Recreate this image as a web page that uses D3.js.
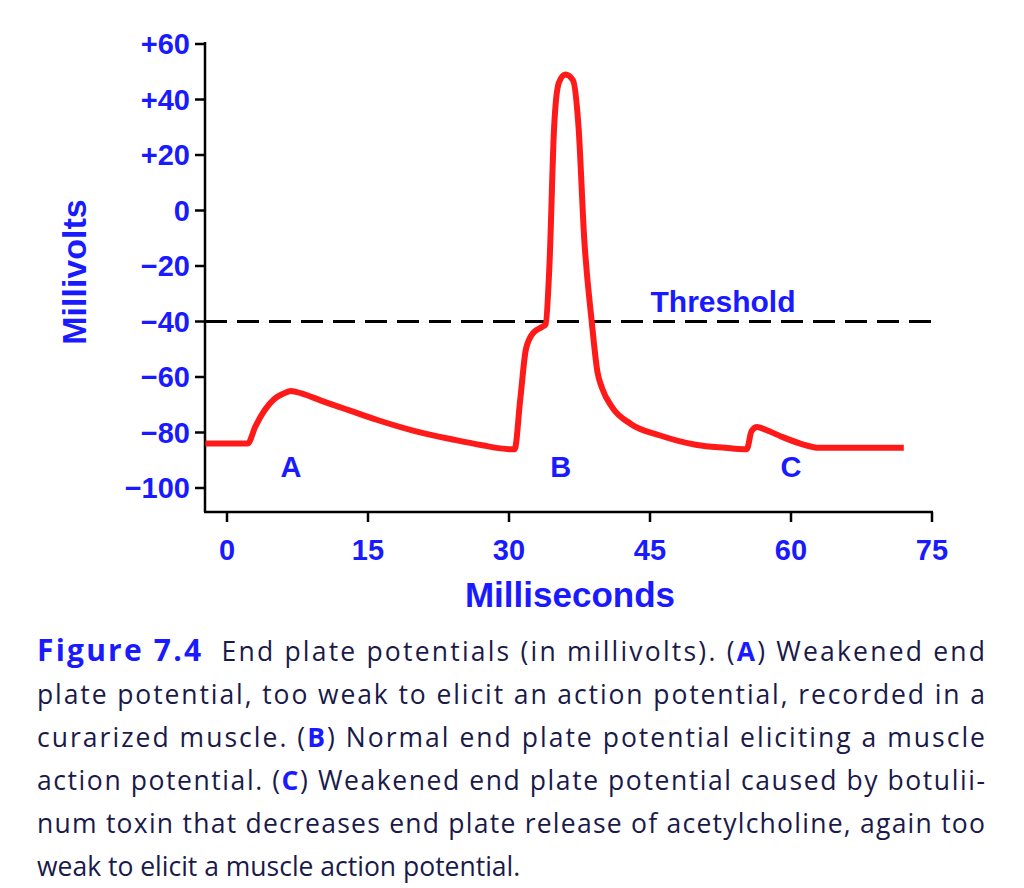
<!DOCTYPE html><html><head><meta charset="utf-8">
<script src="https://cdn.jsdelivr.net/npm/d3@7"></script>
<style>body{margin:0;background:#fff}</style></head><body>
<svg id="c" width="1024" height="888"></svg>
<script>
const times=[-2.3,2.2,3,4,5,6,6.8,8,10,13,16,20,24,27,30,30.6,31.2,31.8,32.6,33.5,33.9,34.3,34.8,35.3,36,36.8,37.4,38,38.8,39.4,39.9,41,43,46,50,53,55,55.3,55.8,56.4,57.3,59,61,63,66,72];
const millivolts=[-84,-84,-78,-72,-68,-66,-65,-66,-68.5,-72,-75.5,-79.5,-82.5,-84.5,-86,-86,-68,-50,-44,-42,-41,-20,30,46,49,47,30,-10,-40,-58,-64,-71,-77,-81,-84.5,-85.5,-86,-86,-79.5,-78,-79,-81.5,-84,-85.5,-85.5,-85.5];
const yTicks=[60,40,20,0,-20,-40,-60,-80,-100];
const xTicks=[0,15,30,45,60,75];
const threshold=-40;
const markers=[{label:"A",t:6.8},{label:"B",t:35.5},{label:"C",t:60}];
const captionLines=[
 ["Figure 7.4","  End plate potentials (in millivolts). (","A",") Weakened end"],
 ["plate potential, too weak to elicit an action potential, recorded in a"],
 ["curarized muscle. (","B",") Normal end plate potential eliciting a muscle"],
 ["action potential. (","C",") Weakened end plate potential caused by botulii-"],
 ["num toxin that decreases end plate release of acetylcholine, again too"],
 ["weak to elicit a muscle action potential."]];
const svg=d3.select("#c"),blue="#1a1aff";
const x=d3.scaleLinear().domain([0,75]).range([227,932]);
const y=d3.scaleLinear().domain([-100,60]).range([488,44]);
const f="Liberation Sans, Arial, sans-serif";
svg.append("line").attr("x1",205).attr("x2",205).attr("y1",42).attr("y2",512).attr("stroke","#000").attr("stroke-width",2.5);
svg.append("line").attr("x1",204).attr("x2",933).attr("y1",512).attr("y2",512).attr("stroke","#000").attr("stroke-width",2.5);
yTicks.forEach(v=>{svg.append("line").attr("x1",195).attr("x2",205).attr("y1",y(v)).attr("y2",y(v)).attr("stroke","#000").attr("stroke-width",2.5);
 svg.append("text").attr("x",190).attr("y",y(v)+10).attr("text-anchor","end").attr("font-family",f).attr("font-weight","bold").attr("font-size",29).attr("fill",blue).text(v>0?"+"+v:v<0?"\u2212"+(-v):"0");});
xTicks.forEach(v=>{svg.append("line").attr("x1",x(v)).attr("x2",x(v)).attr("y1",512).attr("y2",522).attr("stroke","#000").attr("stroke-width",2.5);
 svg.append("text").attr("x",x(v)).attr("y",560).attr("text-anchor","middle").attr("font-family",f).attr("font-weight","bold").attr("font-size",29).attr("fill",blue).text(v);});
svg.append("text").attr("x",570).attr("y",607).attr("text-anchor","middle").attr("font-family",f).attr("font-weight","bold").attr("font-size",35).attr("fill",blue).text("Milliseconds");
svg.append("text").attr("transform","translate(86,272) rotate(-90)").attr("text-anchor","middle").attr("font-family",f).attr("font-weight","bold").attr("font-size",34).attr("fill",blue).text("Millivolts");
svg.append("line").attr("x1",205).attr("x2",935).attr("y1",y(threshold)).attr("y2",y(threshold)).attr("stroke","#000").attr("stroke-width",3).attr("stroke-dasharray","22,10");
svg.append("text").attr("x",723).attr("y",312).attr("text-anchor","middle").attr("font-family",f).attr("font-weight","bold").attr("font-size",30).attr("fill",blue).text("Threshold");
const line=d3.line().x((d,i)=>x(times[i])).y(d=>y(d)).curve(d3.curveMonotoneX);
svg.append("path").attr("d",line(millivolts)).attr("fill","none").attr("stroke","#ff1a1a").attr("stroke-width",6).attr("stroke-linejoin","round");
markers.forEach(m=>svg.append("text").attr("x",x(m.t)).attr("y",477).attr("text-anchor","middle").attr("font-family",f).attr("font-weight","bold").attr("font-size",29).attr("fill",blue).text(m.label));
const cf="Open Sans, Noto Sans, sans-serif";
captionLines.forEach((parts,i)=>{
 const t=svg.append("text").attr("x",37).attr("y",661+i*43).attr("font-family",cf).attr("font-size",26.5).attr("fill","#1a1a4a");
 if(i<5)t.attr("textLength",948).attr("lengthAdjust","spacing");
 t.attr("xml:space","preserve");
 parts.forEach(p=>{const s=t.append("tspan").text(p);
  if(p==="Figure 7.4"){s.attr("font-weight","bold").attr("fill",blue).attr("font-size",30);}
  else if(p.length===1){s.attr("font-weight","bold").attr("fill",blue);}});
});
</script></body></html>
